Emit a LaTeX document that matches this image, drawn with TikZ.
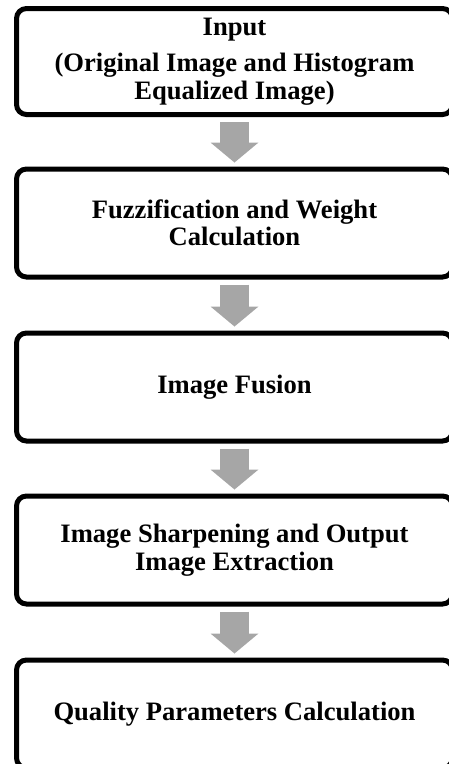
\documentclass[tikz,border=0pt]{standalone}
\usepackage{fontspec}
\setmainfont{Liberation Serif}
\usetikzlibrary{arrows.meta}
\definecolor{flowgray}{HTML}{A6A6A6}
\tikzset{
  stage/.style={draw, rectangle, rounded corners=10pt, line width=5pt,
    minimum width=436pt, minimum height=108pt, align=center,
    font=\fontsize{26.6}{27.5}\selectfont\bfseries},
  flow/.style={draw=flowgray, line width=29pt,
    -{Triangle[width=48pt,length=20pt,line width=0pt]},
    shorten <=5pt, shorten >=4pt},
}
\begin{document}
\begin{tikzpicture}[x=1pt,y=-1pt]
      \useasboundingbox (0,0) rectangle (448,764);
      \draw
        (234.5,61.5) node[stage, minimum height=106pt] (input){Input\\[9pt](Original Image and Histogram\\Equalized Image)}
        (234.5,223) node[stage] (fuzzy){Fuzzification and Weight\\Calculation}
        (234.5,387) node[stage] (fusion){Image Fusion}
        (234.5,550) node[stage] (sharpen){Image Sharpening and Output\\Image Extraction}
        (234.5,714) node[stage] (quality){Quality Parameters Calculation};
      \begin{scope}[flow]
        \draw (input) to (fuzzy);
        \draw (fuzzy) to (fusion);
        \draw (fusion) to (sharpen);
        \draw (sharpen) to (quality);
      \end{scope}
    \end{tikzpicture}
\end{document}
